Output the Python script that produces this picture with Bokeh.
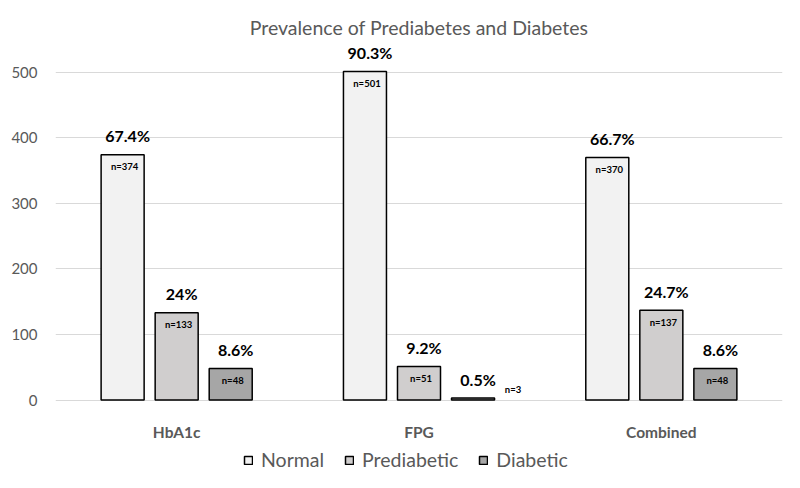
from bokeh.plotting import figure
from bokeh.models import (ColumnDataSource, FixedTicker, Range1d, Legend, LegendItem, Label)
from bokeh.core.properties import value
from bokeh.embed import file_html
from bokeh.resources import INLINE

# ---- data ----
categories = ["HbA1c", "FPG", "Combined"]
series_names = ["Normal", "Prediabetic", "Diabetic"]
normal = [374, 501, 370]
prediabetic = [133, 51, 137]
diabetic = [48, 3, 48]
normal_pct = ["67.4%", "90.3%", "66.7%"]
prediabetic_pct = ["24%", "9.2%", "24.7%"]
diabetic_pct = ["8.6%", "0.5%", "8.6%"]
y_ticks = [0, 100, 200, 300, 400, 500]
title_text = "Prevalence of Prediabetes and Diabetes"

# ---- styling ----
FONT = "Lato"
GRAY = "#595959"
fills = ["#f2f2f2", "#d0cece", "#a6a6a6"]
offsets = [-0.223, 0.0, 0.223]
bar_w = 0.1775

W, H = 784, 472
px_per_unit = 327.8 / 500.0
y0_fig = 399.5
y_end = y0_fig / px_per_unit
y_start = -(H - y0_fig) / px_per_unit

p = figure(width=W, height=H, output_backend="svg", toolbar_location=None,
           x_range=Range1d(-0.5, len(categories) - 0.5),
           y_range=Range1d(y_start, y_end),
           x_axis_location=None,
           min_border_left=55, min_border_right=2,
           min_border_top=0, min_border_bottom=0)
p.outline_line_color = None
p.background_fill_color = "white"
p.border_fill_color = "white"

# axes / grid
p.yaxis.ticker = FixedTicker(ticks=y_ticks)
p.yaxis.axis_line_color = None
p.yaxis.major_tick_line_color = None
p.yaxis.minor_tick_line_color = None
p.yaxis.major_tick_in = 0
p.yaxis.major_tick_out = 0
p.yaxis.major_label_standoff = 18
p.yaxis.major_label_text_font = FONT
p.yaxis.major_label_text_font_size = "15px"
p.yaxis.major_label_text_color = GRAY
p.ygrid.ticker = FixedTicker(ticks=y_ticks)
p.ygrid.grid_line_color = "#d9d9d9"
p.ygrid.grid_line_width = 1
p.xgrid.grid_line_color = None

series_vals = [normal, prediabetic, diabetic]
series_pct = [normal_pct, prediabetic_pct, diabetic_pct]
idx = list(range(len(categories)))

items = []
for s, (name, vals, pcts) in enumerate(zip(series_names, series_vals, series_pct)):
    xs = [i + offsets[s] for i in idx]
    src = ColumnDataSource(dict(x=xs, top=vals, pct=pcts))
    r = p.vbar(x="x", top="top", width=bar_w, bottom=0, source=src,
               fill_color=fills[s], line_color="#000000", line_width=1.5)
    items.append(LegendItem(label=name, renderers=[r]))
    # percentage labels
    p.text(x="x", y="top", text="pct", source=src, text_font=value(FONT),
           text_font_style="bold", text_font_size="16px", text_color="#000000",
           text_align="center", text_baseline="middle", x_offset=5, y_offset=-19)
    # n labels: inside the bar top, or beside a very short bar
    inside = [k for k, v in enumerate(vals) if v >= 20]
    outside = [k for k, v in enumerate(vals) if v < 20]
    if inside:
        si = ColumnDataSource(dict(x=[xs[k] for k in inside], y=[vals[k] for k in inside],
                                   t=["n=%d" % vals[k] for k in inside]))
        p.text(x="x", y="y", text="t", source=si, text_font=value(FONT),
               text_font_style="bold", text_font_size="9.5px", text_color="#000000",
               text_align="center", text_baseline="middle", x_offset=2, y_offset=12)
    if outside:
        so = ColumnDataSource(dict(x=[xs[k] for k in outside], y=[vals[k] for k in outside],
                                   t=["n=%d" % vals[k] for k in outside]))
        p.text(x="x", y="y", text="t", source=so, text_font=value(FONT),
               text_font_style="bold", text_font_size="9.5px", text_color="#000000",
               text_align="center", text_baseline="middle", x_offset=40, y_offset=-9)

# category labels
csrc = ColumnDataSource(dict(x=idx, y=[0] * len(idx), t=categories))
p.text(x="x", y="y", text="t", source=csrc, text_font=value(FONT),
       text_font_style="bold", text_font_size="15.5px", text_color=GRAY,
       text_align="center", text_baseline="middle", y_offset=32)

# title
p.add_layout(Label(x=(len(categories) - 1) / 2, y=y_ticks[-1], text=title_text,
                   text_font=FONT, text_font_size="19.5px", text_color=GRAY,
                   text_align="center", text_baseline="middle", y_offset=45))

legend = Legend(items=items, orientation="horizontal", location=(188, 1),
                glyph_width=10, glyph_height=10, label_standoff=8, spacing=20,
                padding=0, margin=0, border_line_color=None,
                background_fill_alpha=0, label_text_font=FONT,
                label_text_font_size="19.5px", label_text_color=GRAY,
                label_height=18)
p.add_layout(legend)

open("out.html", "w").write(file_html(p, INLINE))
